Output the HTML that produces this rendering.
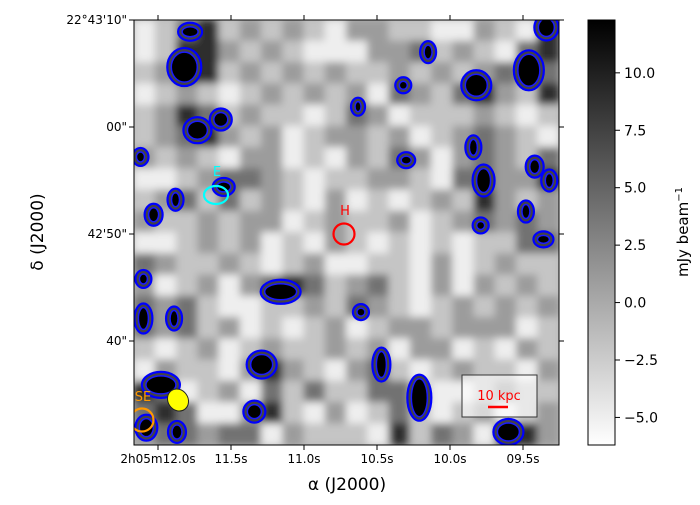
<!DOCTYPE html>
<html><head><meta charset="utf-8"><style>
body{margin:0;background:#fff;font-family:"Liberation Sans","DejaVu Sans",sans-serif}
svg text{font-family:"DejaVu Sans","Liberation Sans",sans-serif}
</style></head><body>
<svg id="chart" width="700" height="500" xmlns="http://www.w3.org/2000/svg">
<defs>
<filter id="blur" x="-5%" y="-5%" width="110%" height="110%"><feGaussianBlur stdDeviation="4"/></filter>
<clipPath id="clip"><rect x="134" y="20" width="425" height="425"/></clipPath>
<linearGradient id="cbar" x1="0" y1="1" x2="0" y2="0"><stop offset="0" stop-color="#fff"/><stop offset="1" stop-color="#000"/></linearGradient>
</defs>
<g id="map" clip-path="url(#clip)">
<rect x="134" y="20" width="425" height="425" fill="#b8b8b8"/>
<g id="grid" filter="url(#blur)"></g>
<g id="srcs"></g>
</g>
<rect x="134" y="20" width="425" height="425" fill="none" stroke="#000" stroke-width="1"/>
<g id="axes"></g>
<rect x="588" y="20" width="27" height="425" fill="url(#cbar)" stroke="#000"/>
<g id="cbticks"></g>
<text x="688" y="232" font-size="15" text-anchor="middle" transform="rotate(-90 688 232)">mJy beam<tspan dy="-6" font-size="10">−1</tspan></text>
<text x="347" y="490" font-size="17" text-anchor="middle">α (J2000)</text>
<text x="43" y="232" font-size="17" text-anchor="middle" transform="rotate(-90 43 232)">δ (J2000)</text>
</svg>
<script>
const gridVals=[
[-5,-2,4,9,-2,1,-2,1,-2,-5, 1,1,-2,-2,-5,-5,1,-2,-5,9],
[-5,-2,9,9,1,-2,1,-2,-5,-5, -5,1,1,4,-2,1,-2,-5,4,9],
[-2,1,9,9,-2,1,-2,1,-2,1, -2,-2,1,-2,1,-2,1,4,1,4],
[-5,-2,1,-2,-5,-2,1,-2,1,-2, 1,-5,4,1,-2,4,9,1,-2,9],
[-2,1,9,4,-2,1,-2,-2,-5,-2, 4,1,-5,-2,-2,-2,1,-2,-5,-2],
[-2,1,4,9,1,-2,1,-5,-2,1, 1,-2,1,-5,-2,1,4,1,-2,-5],
[1,-2,1,-2,-5,1,1,-5,-2,-5, 1,-2,4,1,-5,1,4,1,-2,4],
[-5,-5,-2,1,4,4,1,-2,-5,-2, -2,1,1,-2,-5,4,4,1,1,9],
[-2,1,4,-2,4,-2,1,-2,-5,1, -5,-2,-5,-2,1,-2,9,1,-2,1],
[1,-2,-2,1,-2,1,1,-5,-2,1, -2,-2,1,-5,-2,1,4,1,4,1],
[-5,-5,-2,1,-2,1,-5,-2,-5,1, -2,-5,-2,-5,-2,-5,-2,-2,4,4],
[4,1,-2,-2,1,-2,-5,-2,1,-5, -5,-2,-2,-5,1,-5,-2,1,-2,-2],
[1,-5,-2,1,-5,1,4,9,4,-2, 1,4,-2,-5,1,-5,1,-2,1,-2],
[4,1,4,-2,-5,-5,-2,-2,1,-2, 4,1,-2,-5,-2,1,-2,1,-2,1],
[4,1,4,-2,1,-5,-2,-5,-2,1, -5,-2,1,1,-2,1,1,1,-5,-2],
[-2,-5,-2,1,-5,-2,1,-2,-2,1, -2,1,-5,1,1,-5,-2,-5,1,-2],
[-5,1,-2,-2,-5,1,9,1,-2,-5, 1,4,-2,-5,-2,1,-2,-2,-5,1],
[9,4,-5,-2,1,-5,4,-2,4,-2, -2,4,4,-2,-5,-5,-2,1,-2,-2],
[4,9,4,-5,-5,1,9,-2,-5,1, -5,-2,4,-2,-5,-2,1,-5,-2,1],
[1,4,4,1,4,4,-5,1,-2,-2, -2,-5,9,-2,4,1,-5,9,9,1]];
const srcRA=[11.82,11.78,11.73,11.57,11.55,11.88,12.03,12.12,9.82,9.46,9.34,10.15,10.32,10.63,10.30,9.84,9.77,9.42,9.32,9.79,9.48,11.16,12.10,12.10,11.89,11.29,11.98,11.87,11.34,10.47,10.21,9.60,9.36,10.61,12.08];
const srcDec=[25.6,28.9,19.7,20.7,14.4,13.2,11.8,17.2,23.9,25.3,29.3,27.0,23.9,21.9,16.9,18.1,15.0,16.3,15.0,10.8,12.1,4.6,5.8,2.1,2.1,-2.2,-4.1,-8.5,-6.6,-2.2,-5.3,-8.5,9.5,2.7,-8.1];
const srcMaj=[14,9,11,8,8,5,6,5,12,12,9,5,5,4,6,5,8,6,5,5,5,17,5,6,5,12,16,6,8,6,9,12,7,5,8];
const srcMin=[16,6,10,8,6,8,8,6,12,17,10,8,5,6,5,9,13,8,8,5,8,9,6,12,9,11,10,8,8,14,20,10,5,5,10];
const xTickVals=[12.0,11.5,11.0,10.5,10.0,9.5];
const xTickLabels=["2h05m12.0s","11.5s","11.0s","10.5s","10.0s","09.5s"];
const yTickVals=[30,20,10,0];
const yTickLabels=["22°43'10\"","00\"","42'50\"","40\""];
const cbVals=[10,7.5,5,2.5,0,-2.5,-5];
const cbLabels=["10.0","7.5","5.0","2.5","0.0","−2.5","−5.0"];
const NS="http://www.w3.org/2000/svg";
const xs=ra=>304-(ra-11.0)*146;
const ys=d=>341-d*10.7;
const vmin=-6.2,vmax=12.3;
const gray=v=>{let t=Math.max(0,Math.min(1,(vmax-v)/(vmax-vmin)));let g=Math.round(255*t);return `rgb(${g},${g},${g})`;};
const cby=v=>445-(v-vmin)/(vmax-vmin)*425;
function mk(tag,attrs,parent){const e=document.createElementNS(NS,tag);for(const k in attrs)e.setAttribute(k,attrs[k]);parent.appendChild(e);return e;}
const G=document.getElementById('grid');
const cs=425/gridVals.length;
gridVals.forEach((row,r)=>row.forEach((v,c)=>{
 const e=mk('rect',{x:134+c*cs-0.5,y:20+r*cs-0.5,width:cs+1,height:cs+1,fill:gray(v)},G);
 
 
}));
const S=document.getElementById('srcs');
srcRA.forEach((ra,i)=>{
 const cx=xs(ra),cy=ys(srcDec[i]),rx=srcMaj[i],ry=srcMin[i];
 const g=mk('g',{},S);
 
 
 mk('ellipse',{cx:cx,cy:cy,rx:rx+3,ry:ry+3,fill:'#444',stroke:'#0000ff','stroke-width':2.2},g);
 mk('ellipse',{cx:cx,cy:cy,rx:Math.max(1,rx-1),ry:Math.max(1,ry-1),fill:'#000',stroke:'#1a1aff','stroke-width':1.5},g);
});
function lbl(txt,x,y,col,name,size){const t=mk('text',{x:x,y:y,fill:col,'font-size':size||13,'text-anchor':'middle'},S);t.textContent=txt;}
let e;
e=mk('ellipse',{cx:216,cy:195,rx:12,ry:9,fill:'none',stroke:'#00ffff','stroke-width':2.2},S);
lbl('E',217,176,'#00ffff','label-e');
e=mk('circle',{cx:344,cy:234,r:10.5,fill:'none',stroke:'#ff0000','stroke-width':2.2},S);
lbl('H',345,215,'#ff0000','label-h');
e=mk('ellipse',{cx:178,cy:400,rx:10,ry:11.5,fill:'#ffff00',stroke:'#222','stroke-width':1,transform:'rotate(-35 178 400)'},S);
e=mk('circle',{cx:142,cy:420,r:11.5,fill:'none',stroke:'#ff9900','stroke-width':2.2},S);
lbl('SE',143,401,'#ff9900','label-se');
e=mk('rect',{x:462,y:375,width:75,height:42,fill:'rgba(255,255,255,0.6)',stroke:'#333','stroke-width':1},S);
lbl('10 kpc',499,400,'#ff0000','scale-bar-label');
e=mk('line',{x1:488,y1:407,x2:508,y2:407,stroke:'#ff0000','stroke-width':2.5},S);
const A=document.getElementById('axes');
xTickVals.forEach((v,i)=>{const x=xs(v);
 mk('line',{x1:x,y1:445,x2:x,y2:450,stroke:'#000'},A);mk('line',{x1:x,y1:20,x2:x,y2:15,stroke:'#000'},A);
 const t=mk('text',{x:x,y:463,'font-size':12,'text-anchor':'middle'},A);t.textContent=xTickLabels[i];
 });
yTickVals.forEach((v,i)=>{const y=ys(v);
 mk('line',{x1:134,y1:y,x2:129,y2:y,stroke:'#000'},A);mk('line',{x1:559,y1:y,x2:564,y2:y,stroke:'#000'},A);
 const t=mk('text',{x:127,y:y+4,'font-size':12,'text-anchor':'end'},A);t.textContent=yTickLabels[i];
 });
const C=document.getElementById('cbticks');
cbVals.forEach((v,i)=>{const y=cby(v);
 mk('line',{x1:615,y1:y,x2:620,y2:y,stroke:'#000'},C);
 const t=mk('text',{x:624,y:y+5,'font-size':14},C);t.textContent=cbLabels[i];
 });
</script>
</body></html>
